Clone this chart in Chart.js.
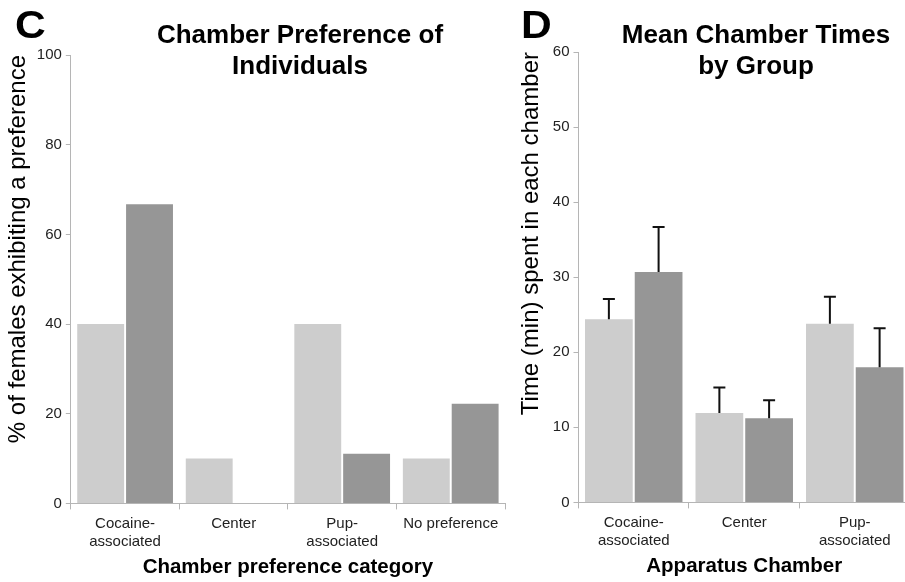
<!DOCTYPE html>
<html>
<head>
<meta charset="utf-8">
<script src="https://cdn.jsdelivr.net/npm/chart.js@4.4.0/dist/chart.umd.min.js"></script>
<style>
  html, body { margin: 0; padding: 0; background: #fff; overflow: hidden; width: 905px; height: 582px; }
  canvas { position: absolute; top: 0; }
  #chartC { left: 0; }
  #chartD { left: 505px; }
</style>
</head>
<body>
<canvas id="chartC" width="520" height="582"></canvas>
<canvas id="chartD" width="420" height="582"></canvas>
<script>
// panel C - % of females showing each preference
const prefCategories = [['Cocaine-', 'associated'], 'Center', ['Pup-', 'associated'], 'No preference'];
const prefLight = [40, 10, 40, 10];
const prefDark = [66.7, 0, 11.1, 22.2];

// panel D - mean time in each chamber (min) with SEM
const chamberCategories = [['Cocaine-', 'associated'], 'Center', ['Pup-', 'associated']];
const timeLight = [24.4, 11.9, 23.8];
const timeLightErr = [2.7, 3.4, 3.6];
const timeDark = [30.7, 11.2, 18.0];
const timeDarkErr = [6.0, 2.4, 5.2];

const lightGrey = '#cdcdcd';
const darkGrey = '#969696';
const axisGrey = '#b5b5b5';
const FONT = '"Liberation Sans", Arial, sans-serif';

Chart.defaults.font.family = FONT;
Chart.defaults.color = '#222';

// letter + two-line title drawn over each panel
const panelText = {
  id: 'panelText',
  afterDraw(chart, args, opts) {
    const ctx = chart.ctx;
    ctx.save();
    ctx.fillStyle = '#000';
    ctx.textBaseline = 'alphabetic';
    ctx.textAlign = 'left';
    // the panel letter is a little wider than plain bold Arial
    ctx.save();
    ctx.translate(opts.letterX, 38);
    ctx.scale(1.12, 1);
    ctx.font = 'bold 38px ' + FONT;
    ctx.fillText(opts.letter, 0, 0);
    ctx.restore();
    ctx.font = 'bold 26px ' + FONT;
    ctx.textAlign = 'center';
    opts.lines.forEach(function (line, i) {
      ctx.fillText(line, opts.titleX, 43 + i * 31);
    });
    ctx.restore();
  }
};

// upward error bars from each bar top
const errorBars = {
  id: 'errorBars',
  afterDatasetsDraw(chart) {
    const ctx = chart.ctx;
    const yScale = chart.scales.y;
    ctx.save();
    ctx.strokeStyle = '#111';
    ctx.lineWidth = 2;
    chart.data.datasets.forEach(function (ds, i) {
      if (!ds.errors) return;
      chart.getDatasetMeta(i).data.forEach(function (bar, j) {
        const top = yScale.getPixelForValue(ds.data[j] + ds.errors[j]);
        ctx.beginPath();
        ctx.moveTo(bar.x, bar.y);
        ctx.lineTo(bar.x, top);
        ctx.moveTo(bar.x - 6, top);
        ctx.lineTo(bar.x + 6, top);
        ctx.stroke();
      });
    });
    ctx.restore();
  }
};

function makeOptions(yMax, yStep, yTitle, xTitle, pad, titlePad, text) {
  return {
    responsive: false,
    animation: false,
    devicePixelRatio: 1,
    layout: { padding: pad },
    plugins: {
      legend: { display: false },
      tooltip: { enabled: false },
      panelText: text
    },
    scales: {
      x: {
        grid: { drawOnChartArea: false, tickLength: 6, color: axisGrey, offset: true },
        border: { color: axisGrey },
        ticks: { font: { size: 15 }, padding: 5, maxRotation: 0, autoSkip: false },
        title: { display: true, text: xTitle, color: '#000', font: { size: 20.5, weight: 'bold' }, padding: { top: 0, bottom: 0 } }
      },
      y: {
        min: 0,
        max: yMax,
        grid: { drawOnChartArea: false, tickLength: 5, color: axisGrey },
        border: { color: axisGrey },
        ticks: { stepSize: yStep, font: { size: 15 }, padding: 4 },
        title: { display: true, text: yTitle, align: 'end', color: '#000', font: { size: 24 }, padding: titlePad }
      }
    }
  };
}

new Chart(document.getElementById('chartC'), {
  type: 'bar',
  data: {
    labels: prefCategories,
    datasets: [
      { data: prefLight, backgroundColor: lightGrey, categoryPercentage: 0.9, barPercentage: 0.96 },
      { data: prefDark, backgroundColor: darkGrey, categoryPercentage: 0.9, barPercentage: 0.96 }
    ]
  },
  options: makeOptions(100, 20, '% of females exhibiting a preference', 'Chamber preference category',
    { top: 55, left: 0, right: 15, bottom: 2 }, { top: 4, bottom: 0 },
    { letter: 'C', letterX: 15, lines: ['Chamber Preference of', 'Individuals'], titleX: 300 }),
  plugins: [panelText]
});

new Chart(document.getElementById('chartD'), {
  type: 'bar',
  data: {
    labels: chamberCategories,
    datasets: [
      { data: timeLight, errors: timeLightErr, backgroundColor: lightGrey, categoryPercentage: 0.9, barPercentage: 0.96 },
      { data: timeDark, errors: timeDarkErr, backgroundColor: darkGrey, categoryPercentage: 0.9, barPercentage: 0.96 }
    ]
  },
  options: makeOptions(60, 10, 'Time (min) spent in each chamber', 'Apparatus Chamber',
    { top: 52, left: 1, right: 15, bottom: 3 }, { top: 11, bottom: 3 },
    { letter: 'D', letterX: 16, lines: ['Mean Chamber Times', 'by Group'], titleX: 251 }),
  plugins: [panelText, errorBars]
});
</script>
</body>
</html>
